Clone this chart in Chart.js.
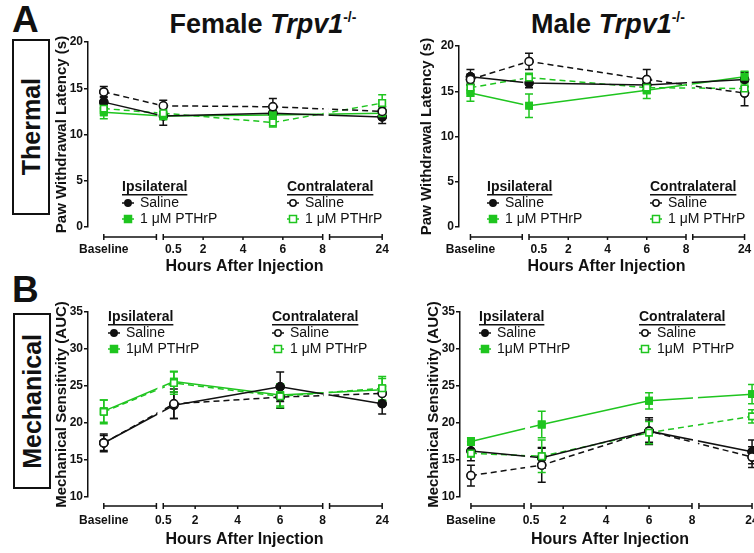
<!DOCTYPE html>
<html>
<head>
<meta charset="utf-8">
<script src="https://cdn.jsdelivr.net/npm/chart.js@4/dist/chart.umd.min.js"></script>
<style>
  body { margin: 0; width: 754px; height: 553px; overflow: hidden; background: #fff; position: relative;
         font-family: "Liberation Sans", Arial, Helvetica, sans-serif; color: #111; }
  canvas { position: absolute; }
  .letter { position: absolute; font-weight: bold; font-size: 37px; line-height: 1; }
  .rowbox { position: absolute; box-sizing: border-box; border: 2px solid #111; display: flex;
            align-items: center; justify-content: center; }
  .rowbox span { writing-mode: vertical-rl; transform: rotate(180deg); font-weight: bold; font-size: 25px; }
  .title { position: absolute; width: 340px; text-align: center; font-weight: bold; font-size: 27px; line-height: 30px; }
  .title sup { font-size: 14px; vertical-align: 11px; }
</style>
</head>
<body>
<div class="letter" style="left:12px;top:1px">A</div>
<div class="letter" style="left:12px;top:271px">B</div>
<div class="rowbox" style="left:12px;top:39px;width:38px;height:176px"><span>Thermal</span></div>
<div class="rowbox" style="left:13px;top:313px;width:38px;height:176px"><span>Mechanical</span></div>
<div class="title" style="left:93px;top:2px">Female <i>Trpv1</i><sup>-/-</sup></div>
<div class="title" style="left:438px;top:2px">Male <i>Trpv1</i><sup>-/-</sup></div>

<canvas id="thermalFemale" width="357" height="248" style="left:50px;top:28px"></canvas>
<canvas id="thermalMale" width="345" height="248" style="left:415px;top:28px"></canvas>
<canvas id="mechFemale" width="357" height="263" style="left:50px;top:290px"></canvas>
<canvas id="mechMale" width="345" height="263" style="left:422px;top:290px"></canvas>

<script>
// time points where each group was plotted (hours after injection)
const thermalFemaleTimes = ['Baseline', 0, 5.5, 24];
const thermalMaleTimes = ['Baseline', 0, 6, 24];
const mechTimes = ['Baseline', 1, 6, 24];

const xTickLabels = ['Baseline', '0.5', '2', '4', '6', '8', '24'];
const xTickHours = ['Baseline', 0.5, 2, 4, 6, 8, 24];

// Female thermal (s)
const ftIpsiSaline = [13.5, 12.0, 12.3, 11.9];
const ftIpsiSalineSem = [0.6, 1.0, 0.5, 0.7];
const ftIpsiPthrp = [12.4, 12.0, 12.1, 12.3];
const ftIpsiPthrpSem = [0.7, 0.4, 0.5, 0.5];
const ftContraSaline = [14.6, 13.1, 13.0, 12.5];
const ftContraSalineSem = [0.6, 0.6, 0.9, 0.5];
const ftContraPthrp = [12.8, 12.3, 11.3, 13.4];
const ftContraPthrpSem = [0.5, 0.5, 0.5, 0.9];

// Male thermal (s)
const mtIpsiSaline = [16.6, 15.9, 15.7, 16.3];
const mtIpsiSalineSem = [0.8, 0.5, 0.6, 0.8];
const mtIpsiPthrp = [14.8, 13.4, 15.1, 16.6];
const mtIpsiPthrpSem = [0.9, 1.3, 0.9, 0.6];
const mtContraSaline = [16.3, 18.3, 16.3, 14.8];
const mtContraSalineSem = [0.6, 0.9, 1.1, 1.4];
const mtContraPthrp = [15.4, 16.5, 15.4, 15.3];
const mtContraPthrpSem = [0.6, 0.5, 0.6, 0.6];

// Female mechanical (AUC)
const fmIpsiSaline = [17.3, 22.4, 24.9, 22.6];
const fmIpsiSalineSem = [1.2, 1.8, 2.0, 1.4];
const fmIpsiPthrp = [21.6, 25.6, 23.8, 24.5];
const fmIpsiPthrpSem = [1.5, 1.4, 1.5, 1.5];
const fmContraSaline = [17.3, 22.6, 23.5, 24.0];
const fmContraSalineSem = [1.0, 2.0, 1.5, 1.0];
const fmContraPthrp = [21.5, 25.4, 23.6, 24.7];
const fmContraPthrpSem = [1.6, 1.5, 1.5, 1.6];

// Male mechanical (AUC)
const mmIpsiSaline = [16.2, 15.3, 18.9, 16.1];
const mmIpsiSalineSem = [1.3, 1.4, 1.8, 1.6];
const mmIpsiPthrp = [17.5, 19.8, 23.0, 23.9];
const mmIpsiPthrpSem = [0.5, 1.8, 1.1, 1.3];
const mmContraSaline = [12.9, 14.3, 18.9, 15.4];
const mmContraSalineSem = [1.4, 2.3, 1.5, 1.4];
const mmContraPthrp = [15.9, 15.5, 18.7, 20.9];
const mmContraPthrpSem = [0.5, 2.2, 1.5, 0.9];

const BLACK = '#111111';
const GREEN = '#1fc51f';
Chart.defaults.font.family = '"Liberation Sans", Arial, Helvetica, sans-serif';
Chart.defaults.color = BLACK;

// broken x axis: the 0(0.5)-8 h segment spans 0..1, baseline and 24 h sit in short side segments
const BASE_V = -0.373, SEG1_END = -0.043, SEG3_START = 1.043, SEG3_END = 1.373;
function axisPos(t, s) {
  if (t === 'Baseline') return BASE_V;
  if (t <= 8) return (t - s) / (8 - s);
  return SEG3_END;
}

const styles = {
  ipsiSaline: { color: BLACK, fill: BLACK, pointStyle: 'circle', dash: [] },
  contraSaline: { color: BLACK, fill: '#fff', pointStyle: 'circle', dash: [6, 4] },
  ipsiPthrp: { color: GREEN, fill: GREEN, pointStyle: 'rect', dash: [] },
  contraPthrp: { color: GREEN, fill: '#fff', pointStyle: 'rect', dash: [6, 4] }
};

const brokenAxis = {
  id: 'brokenAxis',
  afterDatasetsDraw(chart, args, opts) {
    const { ctx, chartArea: a, scales: { x, y } } = chart;
    const px = v => x.getPixelForValue(v);

    // cut the lines where the axis is broken
    ctx.save();
    ctx.globalCompositeOperation = 'destination-out';
    [[SEG1_END, 0], [1, SEG3_START]].forEach(([v0, v1]) => {
      const p0 = px(v0) + 1, p1 = px(v1) - 1;
      ctx.fillRect(p0, a.top - 30, p1 - p0, a.bottom - a.top + 40);
    });
    ctx.restore();

    // error bars
    ctx.save();
    ctx.setLineDash([]);
    ctx.lineWidth = 1.5;
    chart.data.datasets.forEach((ds, i) => {
      ctx.strokeStyle = ds.borderColor;
      chart.getDatasetMeta(i).data.forEach((pt, j) => {
        const v = ds.data[j].y, e = ds.sem[j];
        const yt = y.getPixelForValue(v + e), yb = y.getPixelForValue(v - e);
        ctx.beginPath();
        ctx.moveTo(pt.x, yt); ctx.lineTo(pt.x, yb);
        ctx.moveTo(pt.x - 4, yt); ctx.lineTo(pt.x + 4, yt);
        ctx.moveTo(pt.x - 4, yb); ctx.lineTo(pt.x + 4, yb);
        ctx.stroke();
      });
    });
    ctx.restore();

    // markers back on top
    const big = { left: -1e4, right: 1e4, top: -1e4, bottom: 1e4 };
    ctx.save();
    ctx.setLineDash([]);
    chart.data.datasets.forEach((ds, i) => {
      chart.getDatasetMeta(i).data.forEach(pt => pt.draw(ctx, big));
    });
    ctx.restore();

    // bracketed x axis segments
    const yb = a.bottom + opts.bracketOffset;
    ctx.save();
    ctx.strokeStyle = BLACK;
    ctx.lineWidth = 1.5;
    ctx.beginPath();
    [[BASE_V, SEG1_END], [0, 1], [SEG3_START, SEG3_END]].forEach(([v0, v1]) => {
      ctx.moveTo(px(v0), yb); ctx.lineTo(px(v1), yb);
      ctx.moveTo(px(v0), yb - 3); ctx.lineTo(px(v0), yb + 3);
      ctx.moveTo(px(v1), yb - 3); ctx.lineTo(px(v1), yb + 3);
    });
    [2, 4, 6].forEach(h => {
      const p = px(axisPos(h, opts.seg2Start));
      ctx.moveTo(p, yb); ctx.lineTo(p, yb + 3);
    });
    ctx.stroke();
    ctx.restore();

    // two-column legend
    const lg = opts.legend;
    ctx.save();
    ctx.textBaseline = 'middle';
    lg.columns.forEach(col => {
      ctx.fillStyle = BLACK;
      ctx.font = 'bold 14px ' + Chart.defaults.font.family;
      ctx.fillText(col.header, col.x, lg.y);
      ctx.fillRect(col.x, lg.y + 7, ctx.measureText(col.header).width, 1.5);
      ctx.font = '14px ' + Chart.defaults.font.family;
      col.items.forEach((it, k) => {
        const ry = lg.y + 16 * (k + 1);
        const st = styles[it.style];
        const cx = col.x + 6;
        ctx.strokeStyle = st.color;
        ctx.lineWidth = 1.5;
        ctx.beginPath();
        ctx.moveTo(cx - 6, ry); ctx.lineTo(cx + 6, ry);
        ctx.stroke();
        ctx.fillStyle = st.fill;
        ctx.beginPath();
        if (st.pointStyle === 'circle') ctx.arc(cx, ry, 3.2, 0, Math.PI * 2);
        else ctx.rect(cx - 3.5, ry - 3.5, 7, 7);
        ctx.fill();
        ctx.stroke();
        ctx.fillStyle = BLACK;
        ctx.fillText(it.text, col.x + 18, ry);
      });
    });
    ctx.restore();
  }
};

function makeSeries(times, s, values, sem, style, label) {
  const st = styles[style];
  return {
    label,
    data: values.map((v, i) => ({ x: axisPos(times[i], s), y: v })),
    sem,
    borderColor: st.color,
    backgroundColor: st.fill,
    borderWidth: 1.5,
    borderDash: st.dash,
    pointStyle: st.pointStyle,
    pointRadius: st.pointStyle === 'rect' ? 4.5 : 4,
    pointBorderWidth: 1.5,
    pointBackgroundColor: st.fill,
    pointBorderColor: st.color,
    tension: 0,
    clip: false
  };
}

function makeChart(id, p) {
  new Chart(document.getElementById(id), {
    type: 'line',
    data: { datasets: p.series },
    options: {
      responsive: false,
      animation: false,
      devicePixelRatio: 1,
      layout: { padding: { top: p.padTop, right: p.padRight, left: 0, bottom: 0 } },
      plugins: {
        legend: { display: false },
        tooltip: { enabled: false },
        brokenAxis: { bracketOffset: p.bracketOffset, seg2Start: p.seg2Start, legend: p.legend }
      },
      scales: {
        x: {
          type: 'linear',
          min: p.xMin,
          max: p.xMax,
          afterBuildTicks: sc => { sc.ticks = xTickHours.map(h => ({ value: axisPos(h, p.seg2Start) })); },
          afterFit: sc => { sc.height = p.xAxisHeight; },
          ticks: {
            autoSkip: false, maxRotation: 0, padding: 0, color: BLACK,
            font: { size: 12, weight: 'bold' },
            callback: (v, i) => xTickLabels[i]
          },
          // tick marks are hidden; their length only pushes the labels below the bracket axis
          grid: { display: false, drawTicks: true, tickLength: p.tickPad },
          border: { display: false },
          title: {
            display: true, text: 'Hours After Injection', color: BLACK,
            font: { size: 16, weight: 'bold' }, padding: { top: 0, bottom: p.titlePadBottom }
          }
        },
        y: {
          min: p.yMin,
          max: p.yMax,
          afterFit: sc => { sc.width = p.yAxisWidth; },
          ticks: { stepSize: 5, padding: 1, color: BLACK, font: { size: 12, weight: 'bold' } },
          grid: { drawOnChartArea: false, drawTicks: true, tickLength: 4, color: BLACK, lineWidth: 1.5 },
          border: { display: true, color: BLACK, width: 1.5 },
          title: {
            display: true, text: p.yTitle, color: BLACK,
            font: { size: 15, weight: 'bold' }, padding: { top: 3, bottom: 0 }
          }
        }
      }
    },
    plugins: [brokenAxis]
  });
}

function legendCols(ipsiX, contraX, ipsiPthrpText, contraPthrpText) {
  return [
    { header: 'Ipsilateral', x: ipsiX, items: [
      { style: 'ipsiSaline', text: 'Saline' }, { style: 'ipsiPthrp', text: ipsiPthrpText }] },
    { header: 'Contralateral', x: contraX, items: [
      { style: 'contraSaline', text: 'Saline' }, { style: 'contraPthrp', text: contraPthrpText }] }
  ];
}

makeChart('thermalFemale', {
  series: [
    makeSeries(thermalFemaleTimes, 0, ftIpsiSaline, ftIpsiSalineSem, 'ipsiSaline', 'Ipsilateral Saline'),
    makeSeries(thermalFemaleTimes, 0, ftIpsiPthrp, ftIpsiPthrpSem, 'ipsiPthrp', 'Ipsilateral 1 μM PTHrP'),
    makeSeries(thermalFemaleTimes, 0, ftContraSaline, ftContraSalineSem, 'contraSaline', 'Contralateral Saline'),
    makeSeries(thermalFemaleTimes, 0, ftContraPthrp, ftContraPthrpSem, 'contraPthrp', 'Contralateral 1 μM PTHrP')
  ],
  seg2Start: 0, xMin: -0.472, xMax: 1.491, yMin: 0, yMax: 20,
  yTitle: 'Paw Withdrawal Latency (s)', yAxisWidth: 38, padTop: 14, padRight: 3,
  xAxisHeight: 49, tickPad: 15, titlePadBottom: 0, bracketOffset: 10,
  legend: { y: 159, columns: legendCols(72, 237, '1 μM PTHrP', '1 μM PTHrP') }
});

makeChart('thermalMale', {
  series: [
    makeSeries(thermalMaleTimes, 0, mtIpsiSaline, mtIpsiSalineSem, 'ipsiSaline', 'Ipsilateral Saline'),
    makeSeries(thermalMaleTimes, 0, mtIpsiPthrp, mtIpsiPthrpSem, 'ipsiPthrp', 'Ipsilateral 1 μM PTHrP'),
    makeSeries(thermalMaleTimes, 0, mtContraSaline, mtContraSalineSem, 'contraSaline', 'Contralateral Saline'),
    makeSeries(thermalMaleTimes, 0, mtContraPthrp, mtContraPthrpSem, 'contraPthrp', 'Contralateral 1 μM PTHrP')
  ],
  seg2Start: 0, xMin: -0.4459, xMax: 1.4331, yMin: 0, yMax: 20,
  yTitle: 'Paw Withdrawal Latency (s)', yAxisWidth: 44, padTop: 18, padRight: 6,
  xAxisHeight: 49, tickPad: 15, titlePadBottom: 0, bracketOffset: 10,
  legend: { y: 159, columns: legendCols(72, 235, '1 μM PTHrP', '1 μM PTHrP') }
});

makeChart('mechFemale', {
  series: [
    makeSeries(mechTimes, 0.5, fmIpsiSaline, fmIpsiSalineSem, 'ipsiSaline', 'Ipsilateral Saline'),
    makeSeries(mechTimes, 0.5, fmIpsiPthrp, fmIpsiPthrpSem, 'ipsiPthrp', 'Ipsilateral 1μM PTHrP'),
    makeSeries(mechTimes, 0.5, fmContraSaline, fmContraSalineSem, 'contraSaline', 'Contralateral Saline'),
    makeSeries(mechTimes, 0.5, fmContraPthrp, fmContraPthrpSem, 'contraPthrp', 'Contralateral 1 μM PTHrP')
  ],
  seg2Start: 0.5, xMin: -0.472, xMax: 1.491, yMin: 10, yMax: 35,
  yTitle: 'Mechanical Sensitivity (AUC)', yAxisWidth: 38, padTop: 22, padRight: 3,
  xAxisHeight: 56, tickPad: 16, titlePadBottom: 4, bracketOffset: 9,
  legend: { y: 27, columns: legendCols(58, 222, '1μM PTHrP', '1 μM PTHrP') }
});

makeChart('mechMale', {
  series: [
    makeSeries(mechTimes, 0.5, mmIpsiSaline, mmIpsiSalineSem, 'ipsiSaline', 'Ipsilateral Saline'),
    makeSeries(mechTimes, 0.5, mmIpsiPthrp, mmIpsiPthrpSem, 'ipsiPthrp', 'Ipsilateral 1μM PTHrP'),
    makeSeries(mechTimes, 0.5, mmContraSaline, mmContraSalineSem, 'contraSaline', 'Contralateral Saline'),
    makeSeries(mechTimes, 0.5, mmContraPthrp, mmContraPthrpSem, 'contraPthrp', 'Contralateral 1μM  PTHrP')
  ],
  seg2Start: 0.5, xMin: -0.441, xMax: 1.4224, yMin: 10, yMax: 35,
  yTitle: 'Mechanical Sensitivity (AUC)', yAxisWidth: 38, padTop: 22, padRight: 7,
  xAxisHeight: 56, tickPad: 16, titlePadBottom: 4, bracketOffset: 9,
  legend: { y: 27, columns: legendCols(57, 217, '1μM PTHrP', '1μM  PTHrP') }
});
</script>
</body>
</html>
